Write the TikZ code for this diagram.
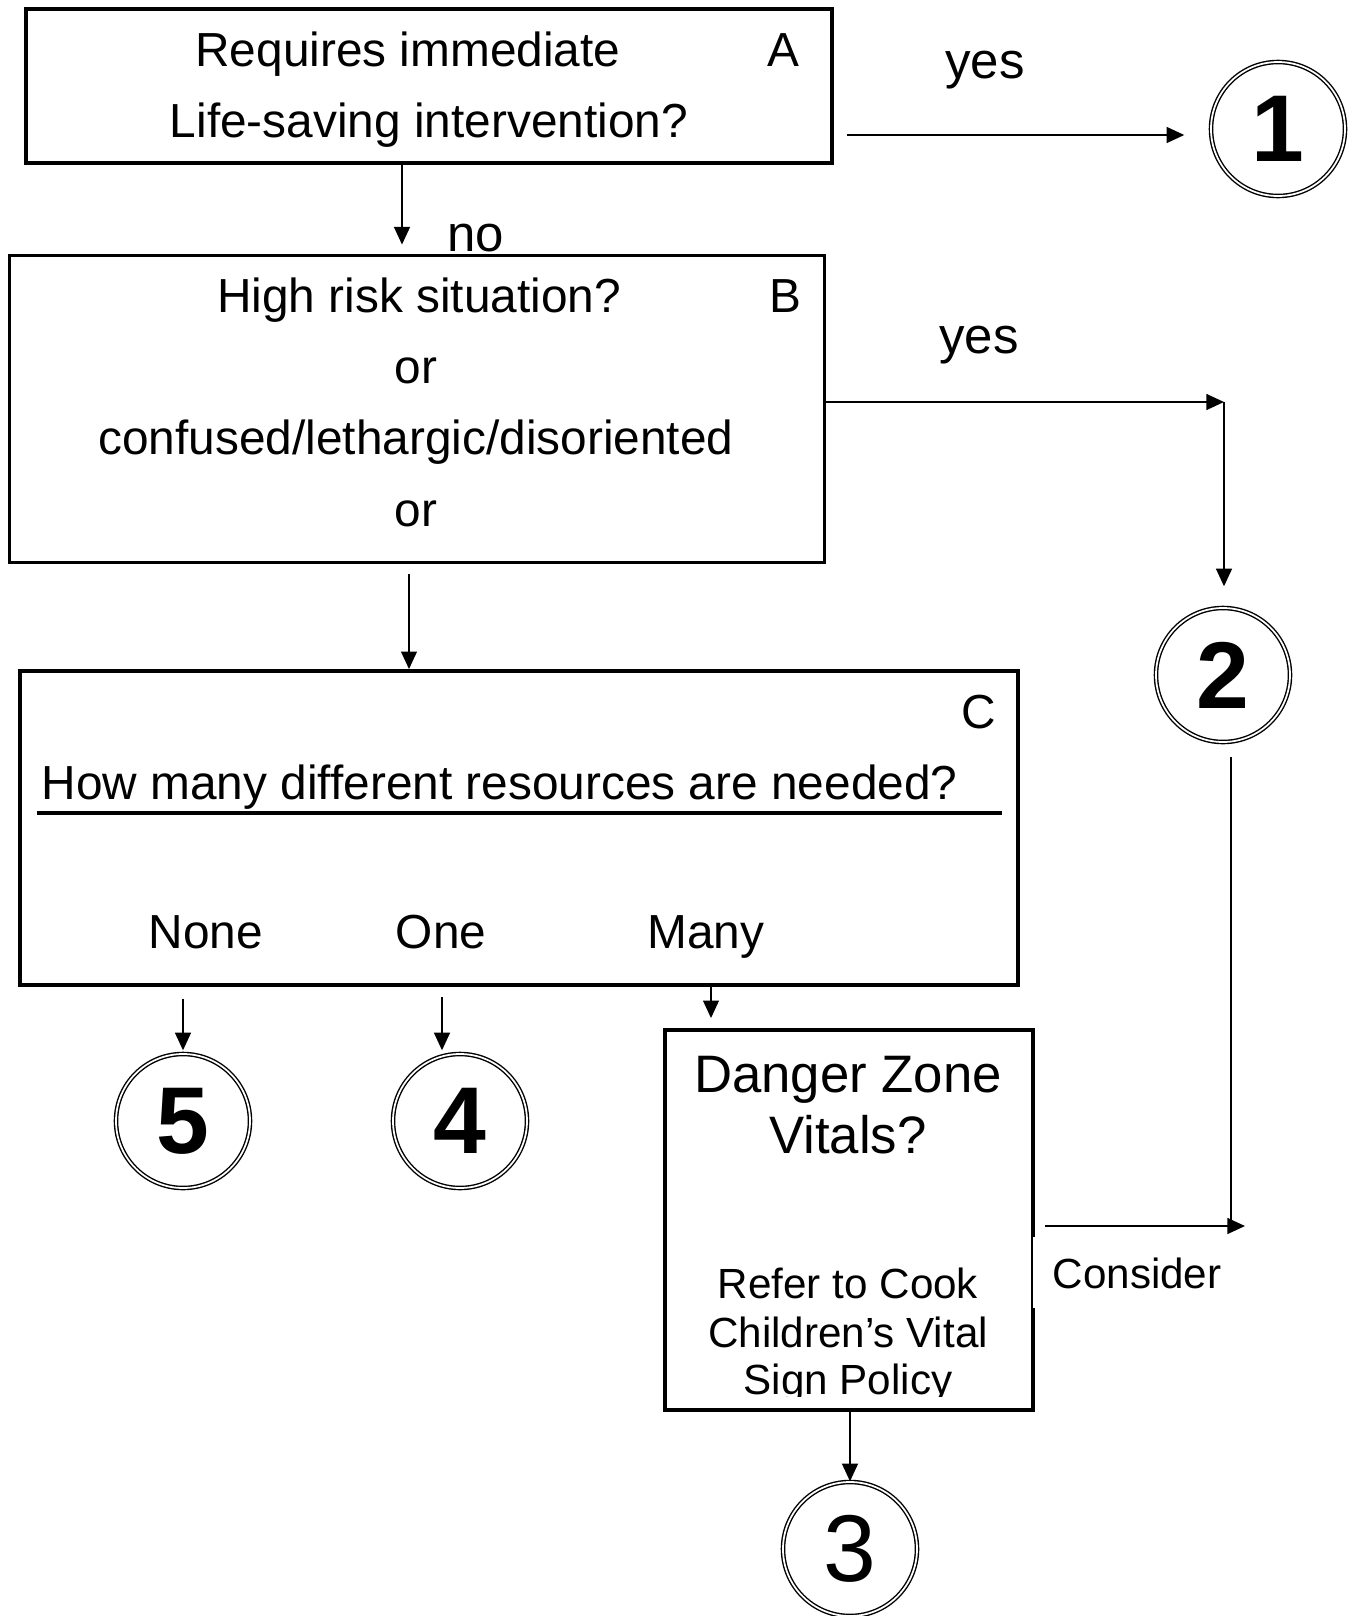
\documentclass[tikz,border=0pt]{standalone}
\usepackage{fontspec}
\setmainfont{Liberation Sans}
\usetikzlibrary{arrows.meta}

\begin{document}
\begin{tikzpicture}[x=1cm,y=-1cm,
    box/.style={draw, line width=1.1pt, inner sep=0pt},
    txt/.style={anchor=base, inner sep=0pt, font=\fontsize{13.6}{16}\selectfont},
    lbl/.style={anchor=base, inner sep=0pt, font=\fontsize{14.5}{17}\selectfont},
    big/.style={anchor=base, inner sep=0pt, font=\fontsize{15}{18}\selectfont},
    small/.style={anchor=base, inner sep=0pt, font=\fontsize{12}{14}\selectfont},
    num/.style={circle, draw, double, line width=0.4pt, double distance=0.5pt,
        minimum size=1.34cm, inner sep=0pt, font=\fontsize{27}{30}\selectfont\bfseries},
    arr/.style={-{Triangle[length=5pt,width=4.5pt]}, line width=0.5pt}
]
\useasboundingbox (0,0) rectangle (13.53,16.16);

% Box A
\node[box, minimum width=8.06cm, minimum height=1.54cm] (A) at (4.29,0.86) {};
\node[txt] (a1) at (4.08,0.66) {Requires immediate};
\node[txt] (a2) at (4.29,1.37) {Life-saving intervention?};
\node[txt] (aA) at (7.83,0.66) {A};

% Box B
\node[box, minimum width=8.15cm, minimum height=3.07cm] (B) at (4.17,4.09) {};
\node[txt] (b1) at (4.19,3.12) {High risk situation?};
\node[txt] (b2) at (4.16,3.83) {or};
\node[txt] (b3) at (4.16,4.54) {confused/lethargic/disoriented};
\node[txt] (b4) at (4.16,5.26) {or};
\node[txt] (bB) at (7.85,3.12) {B};

% Box C
\node[box, minimum width=9.98cm, minimum height=3.14cm] (C) at (5.19,8.28) {};
\node[txt] (cC) at (9.79,7.28) {C};
\node[txt, anchor=base west] (c1) at (0.41,7.99) {How many different resources are needed?};
\draw[line width=1.1pt] (0.37,8.13) -- (10.02,8.13);
\node[txt] (none) at (2.06,9.48) {None};
\node[txt] (one) at (4.41,9.48) {One};
\node[txt] (many) at (7.06,9.48) {Many};

% Danger zone box
\node[box, minimum width=3.68cm, minimum height=3.80cm] (D) at (8.49,12.20) {};
\node[big] (d1) at (8.48,10.92) {Danger Zone};
\node[big] (d2) at (8.48,11.53) {Vitals?};
\node[small] (d3) at (8.48,12.98) {Refer to Cook};
\node[small] (d4) at (8.48,13.47) {Children’s Vital};
\begin{scope}
\clip (6.70,13.00) rectangle (10.30,13.96);
\node[small] (d5) at (8.48,13.94) {Sign Policy};
\end{scope}

% Levels
\node[num] (n1) at (12.78,1.29) {1};
\node[num] (n2) at (12.23,6.75) {2};
\node[num] (n5) at (1.83,11.21) {5};
\node[num] (n4) at (4.60,11.21) {4};
\node[num, font=\fontsize{27}{30}\selectfont] (n3) at (8.50,15.49) {3};

% Labels
\node[lbl] (yes1) at (9.85,0.78) {yes};
\node[lbl] (no) at (4.76,2.51) {no};
\node[lbl] (yes2) at (9.79,3.53) {yes};

% Arrows
\coordinate (ya) at (8.47,1.35);
\draw[arr, shorten >=0.26cm] (ya) -- (ya -| n1.west);
\coordinate (na) at (4.02,1.65);
\draw[arr, shorten >=0.09cm] (na) -- (na |- B.north);
\coordinate (yb) at (12.24,4.02);
\draw[arr] (yb -| B.east) -- (yb);
\draw[arr, shorten >=0.21cm] (yb) -- (yb |- n2.north);
\coordinate (bc) at (4.09,5.74);
\draw[arr] (bc) -- (bc |- C.north);
\draw[arr, shorten <=0.12cm, shorten >=0.03cm] (C.south -| n5.north) -- (n5.north);
\coordinate (c4) at (4.42,9.97);
\draw[arr, shorten >=0.03cm] (c4) -- (c4 |- n4.north);
\coordinate (cd) at (7.11,9.87);
\draw[arr, shorten >=0.1cm] (cd) -- (cd |- D.north);
\draw[arr] (D.south -| n3.north) -- (n3.north);

% Consider
\coordinate (k1) at (12.31,7.57);
\coordinate (k2) at (12.31,12.26);
\draw[line width=0.5pt] (k1) -- (k2);
\draw[arr] ([xshift=0.1cm]D.east |- k2) -- ([xshift=0.14cm]k2);
\node[small, anchor=base west, fill=white, inner sep=0.2cm] (cons) at (10.32,12.88) {Consider};

\end{tikzpicture}
\end{document}
